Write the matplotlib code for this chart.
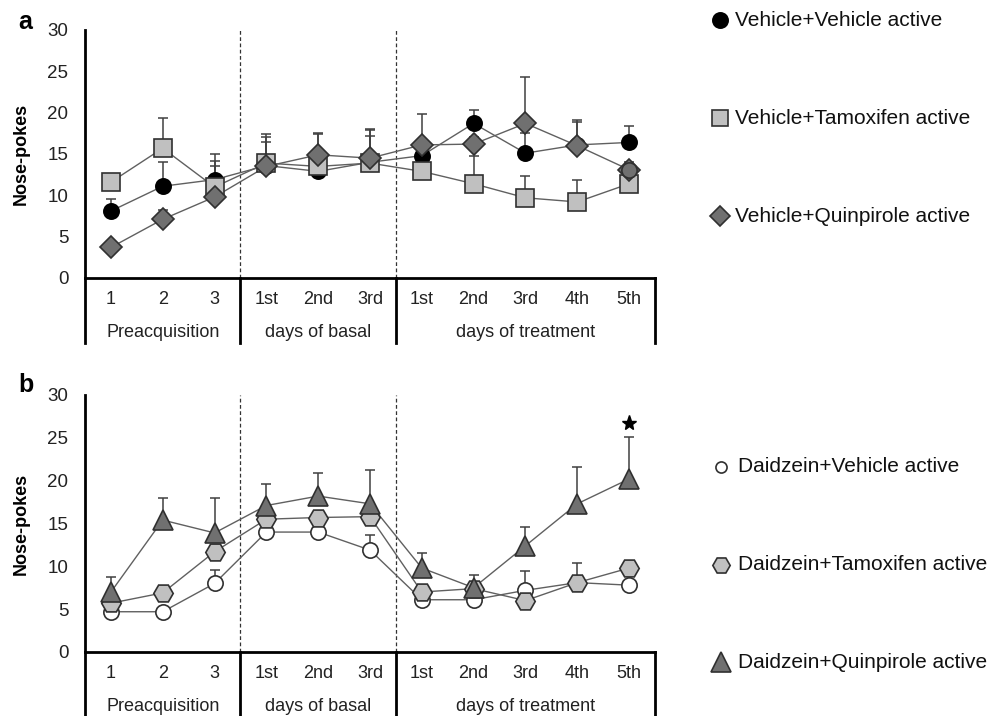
import matplotlib
matplotlib.use('Agg')
import matplotlib.pyplot as plt
from matplotlib.lines import Line2D
import numpy as np

plt.rcParams['font.family'] = ['Liberation Sans', 'DejaVu Sans']

# Данные
days = ['1', '2', '3', '1st', '2nd', '3rd', '1st', '2nd', '3rd', '4th', '5th']
groups = ['Preacquisition', 'days of basal', 'days of treatment']

# панель a
veh_veh = [8.1, 11.1, 11.9, 13.6, 12.9, 14.0, 14.8, 18.7, 15.1, 16.1, 16.4]
veh_veh_top = [9.5, 14.0, 15.0, 17.0, 17.6, 17.9, 16.5, 20.3, 17.5, 18.9, 18.4]
veh_tam = [11.6, 15.7, 11.0, 13.9, 13.5, 13.9, 12.9, 11.4, 9.7, 9.2, 11.4]
veh_tam_top = [12.2, 19.4, 13.5, 17.4, 14.5, 17.2, 13.5, 14.8, 12.3, 11.9, 12.2]
veh_quin = [3.7, 7.1, 9.8, 13.5, 14.9, 14.5, 16.1, 16.2, 18.7, 16.0, 13.1]
veh_quin_top = [4.2, 8.2, 14.1, 16.5, 17.4, 18.0, 19.8, 17.0, 24.3, 19.1, 14.0]

# панель b
dz_veh = [4.7, 4.7, 8.0, 14.0, 14.0, 11.9, 6.1, 6.1, 7.2, 8.1, 7.8]
dz_veh_top = [5.2, 5.2, 9.6, 14.5, 14.5, 13.7, 6.6, 6.6, 9.5, 8.6, 8.3]
dz_tam = [5.7, 6.9, 11.7, 15.5, 15.7, 15.8, 7.0, 7.4, 6.0, 8.1, 9.8]
dz_tam_top = [6.2, 7.4, 12.2, 16.0, 16.2, 16.3, 7.5, 7.9, 6.5, 10.4, 10.3]
dz_quin = [7.0, 15.4, 13.9, 17.1, 18.2, 17.3, 9.8, 7.5, 12.4, 17.3, 20.2]
dz_quin_top = [8.7, 18.0, 18.0, 19.6, 20.9, 21.2, 11.6, 9.0, 14.6, 21.6, 25.1]
star_day = 10
star_y = 26.7

W, H = 989, 716
LINE = '#606060'
EDGE = '#303030'

# (название, значения, верх ошибки, маркер, размер, заливка, обводка, размер в легенде)
series_a = [
    ('Vehicle+Vehicle active', veh_veh, veh_veh_top, 'o', 11, 'black', 'black', 11),
    ('Vehicle+Tamoxifen active', veh_tam, veh_tam_top, 's', 13.5, '#c0c0c0', EDGE, 12),
    ('Vehicle+Quinpirole active', veh_quin, veh_quin_top, 'D', 11, '#707070', EDGE, 10),
]
series_b = [
    ('Daidzein+Vehicle active', dz_veh, dz_veh_top, 'o', 11, 'white', EDGE, 8),
    ('Daidzein+Tamoxifen active', dz_tam, dz_tam_top, 'H', 14, '#c0c0c0', EDGE, 12.5),
    ('Daidzein+Quinpirole active', dz_quin, dz_quin_top, '^', 15, '#707070', EDGE, 14),
]


def px_axes(left, top, right, bottom):
    return [left / W, 1 - bottom / H, (right - left) / W, (bottom - top) / H]


def draw_panel(ax, series, row1, row2, row_end):
    x = np.arange(len(days))
    for name, vals, top, mk, ms, fc, ec, lms in series:
        vals = np.array(vals)
        err = np.array(top) - vals
        ax.errorbar(x, vals, yerr=[np.zeros_like(err), err], fmt='none',
                    ecolor='#404040', elinewidth=1.1, capsize=3.5, capthick=1.1, zorder=2)
    for name, vals, top, mk, ms, fc, ec, lms in series:
        ax.plot(x, vals, color=LINE, lw=1.0, zorder=3)
    for name, vals, top, mk, ms, fc, ec, lms in series:
        ax.plot(x, vals, ls='none', marker=mk, ms=ms, mfc=fc, mec=ec, mew=1.2, zorder=4)

    ax.set_xlim(-0.5, len(days) - 0.5)
    ax.set_ylim(0, 30)
    ax.set_yticks(range(0, 31, 5))
    ax.set_xticks(x)
    ax.set_xticklabels([])
    ax.tick_params(axis='y', length=0, pad=12, labelsize=13.5, colors='#222222')
    ax.tick_params(axis='x', length=0)
    for s in ['top', 'right']:
        ax.spines[s].set_visible(False)
    ax.spines['left'].set_linewidth(2.0)
    ax.spines['bottom'].set_linewidth(2.0)
    ax.set_ylabel('Nose-pokes', fontsize=13, fontweight='bold')
    ax.yaxis.set_label_coords(-0.097, 0.5)

    tr = ax.get_xaxis_transform()
    for i, d in enumerate(days):
        ax.text(i, row1, d, transform=tr, ha='center', va='center', fontsize=13, color='#222222')
    bounds = [-0.5, 2.5, 5.5, 10.5]
    for b in bounds:
        ax.plot([b, b], [0, row_end], transform=tr, color='black', lw=2.0, clip_on=False)
    for b in bounds[1:3]:
        ax.axvline(b, color='#333333', lw=0.9, ls=(0, (3, 2)), zorder=1)
    for g, a, b in zip(groups, bounds[:-1], bounds[1:]):
        ax.text((a + b) / 2, row2, g, transform=tr, ha='center', va='center', fontsize=13, color='#222222')


def draw_legend(fig, series, ys, mx, tx):
    for (name, vals, top, mk, ms, fc, ec, lms), y in zip(series, ys):
        fig.add_artist(Line2D([mx / W], [1 - y / H], marker=mk, ms=lms, mfc=fc, mec=ec, mew=1.2,
                              ls='none', transform=fig.transFigure))
        fig.text(tx / W, 1 - y / H, name, ha='left', va='center', fontsize=15, color='#111111')


fig = plt.figure(figsize=(W / 100, H / 100), dpi=100)

ax_a = fig.add_axes(px_axes(85, 30, 655, 278))
draw_panel(ax_a, series_a, -0.085, -0.218, -0.262)
# последняя точка ряда с хинпиролом на рисунке нарисована кружком
ax_a.plot([len(days) - 1], [veh_quin[-1]], ls='none', marker='o', ms=11, mfc='#707070', mec=EDGE, mew=1.2, zorder=5)

ax_b = fig.add_axes(px_axes(85, 395, 655, 652))
draw_panel(ax_b, series_b, -0.082, -0.214, -0.26)
ax_b.plot([star_day], [star_y], ls='none', marker='*', ms=11, color='black', zorder=5)

fig.text(18 / W, 1 - 22 / H, 'a', fontsize=18, fontweight='bold', ha='left', va='center')
fig.text(18 / W, 1 - 385 / H, 'b', fontsize=18, fontweight='bold', ha='left', va='center')

draw_legend(fig, series_a, [20, 118, 216], 720, 735)
draw_legend(fig, series_b, [467, 565, 662], 721, 738)

fig.savefig('out.png', dpi=100)
